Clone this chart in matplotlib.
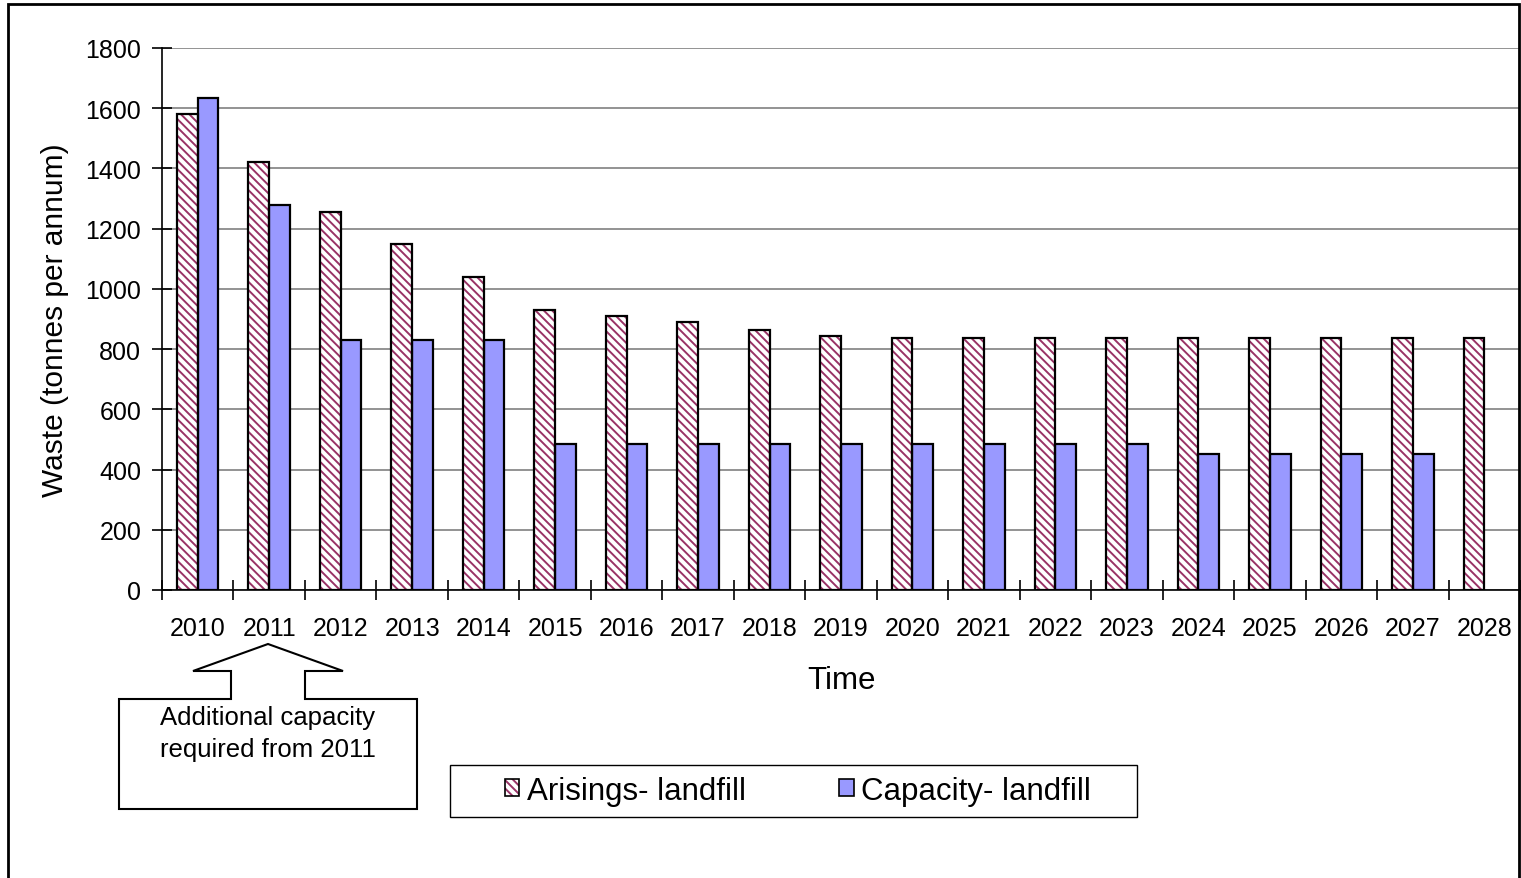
import numpy as np
import matplotlib.pyplot as plt
from matplotlib.patches import Patch, Polygon, Rectangle
from matplotlib.ticker import MultipleLocator

plt.rcParams['font.family'] = ['Liberation Sans', 'DejaVu Sans']
plt.rcParams['hatch.linewidth'] = 1.4

#Data
years = [2010, 2011, 2012, 2013, 2014, 2015, 2016, 2017, 2018, 2019,
         2020, 2021, 2022, 2023, 2024, 2025, 2026, 2027, 2028]
arisings = [1580, 1420, 1255, 1148, 1040, 930, 910, 890, 865, 845,
            837, 837, 837, 837, 837, 837, 837, 837, 837]
capacity = [1635, 1280, 830, 830, 830, 485, 485, 485, 485, 485,
            485, 485, 485, 485, 452, 452, 452, 452, 0]

W, H = 1521, 879
fig = plt.figure(figsize=(W / 100, H / 100), dpi=100)
ax = fig.add_axes([162 / W, 1 - 591 / H, (1520 - 162) / W, (591 - 49) / H])

x = np.arange(len(years))
bw = 0.29
maroon = '#993366'
#hatched bars: stripes first, black outline on top
ax.bar(x - bw / 2, arisings, bw, facecolor='white', edgecolor=maroon,
       hatch='\\\\\\\\', linewidth=0, zorder=3)
ax.bar(x - bw / 2, arisings, bw, fill=False, edgecolor='black', linewidth=1.6, zorder=4)
cap_x = [xi for xi, v in zip(x, capacity) if v > 0]
cap_v = [v for v in capacity if v > 0]
ax.bar(np.array(cap_x) + bw / 2, cap_v, bw, facecolor='#9999FF',
       edgecolor='black', linewidth=1.6, zorder=3)

ax.set_xlim(-0.5, len(years) - 0.5)
ax.set_ylim(0, 1800)
ax.yaxis.set_major_locator(MultipleLocator(200))
ax.grid(axis='y', color='#808080', linewidth=1.2, zorder=0)
ax.set_xticks(x)
ax.set_xticklabels([str(y) for y in years])
ax.set_xticks(np.arange(-0.5, len(years)), minor=True)
ax.tick_params(axis='x', which='major', length=0, pad=19, labelsize=18)
ax.tick_params(axis='x', which='minor', length=14, direction='inout', width=1.2)
ax.tick_params(axis='y', length=14, direction='inout', width=1.2, labelsize=18, pad=8)
for s in ['top', 'right']:
    ax.spines[s].set_visible(False)
ax.spines['left'].set_linewidth(1.2)
ax.spines['bottom'].set_linewidth(1.2)

ax.set_xlabel('Time', fontsize=22.5, labelpad=18)
ax.set_ylabel('Waste (tonnes per annum)', fontsize=21.5, labelpad=12)

#callout arrow box (figure pixel coords)
pts = [(119, 810), (417, 810), (417, 700), (305, 700), (305, 672), (343, 672),
       (268, 645), (193, 672), (231, 672), (231, 700), (119, 700)]
poly = Polygon([(px / W, 1 - py / H) for px, py in pts], closed=True,
               facecolor='white', edgecolor='black', linewidth=1.5,
               transform=fig.transFigure)
fig.add_artist(poly)
fig.text(268 / W, 1 - 734 / H, 'Additional capacity\nrequired from 2011',
         ha='center', va='center', fontsize=18.5, linespacing=1.4)

#legend, box drawn separately
fig.add_artist(Rectangle((450 / W, 1 - 818 / H), (1137 - 450) / W, 52 / H,
                         fill=False, edgecolor='black', linewidth=1.0,
                         transform=fig.transFigure))
h1 = (Patch(facecolor='white', edgecolor=maroon, hatch='\\\\\\\\', linewidth=0),
      Patch(fill=False, edgecolor='black', linewidth=1.2))
h2 = Patch(facecolor='#9999FF', edgecolor='black', linewidth=1.2)
leg = fig.legend([h1, h2], ['Arisings- landfill', 'Capacity- landfill'],
                 loc='center', bbox_to_anchor=(798 / W, 1 - 792 / H),
                 ncol=2, fontsize=22.5, frameon=False,
                 handlelength=0.45, handleheight=0.45,
                 handletextpad=0.25, columnspacing=3.0)

#outer frame
fig.add_artist(Rectangle((8 / W, -0.05), (1519 - 8) / W, 1 - 5 / H + 0.05,
                         fill=False, edgecolor='black', linewidth=2,
                         transform=fig.transFigure))

fig.savefig('out.png', dpi=100)
